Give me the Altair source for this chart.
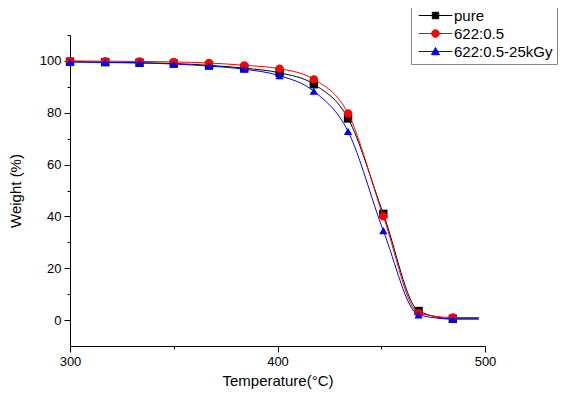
import altair as alt
import pandas as pd

series_names = ["pure", "622:0.5", "622:0.5-25kGy"]
series_colors = ["#000000", "#ff0000", "#0000ff"]
marker_shapes = ["square", "circle", "triangle-up"]

temps = [300, 317, 333.5, 350, 367, 384, 401, 417.5, 434, 451, 468, 484.5]
pure = [99.7, 99.5, 99.3, 99.0, 98.3, 97.2, 95.4, 91.0, 77.8, 41.0, 3.5, 0.5]
s622 = [100.0, 99.9, 99.8, 99.6, 99.2, 98.3, 97.0, 92.9, 79.7, 40.0, 2.7, 1.0]
s622_25 = [99.6, 99.4, 99.2, 98.8, 98.0, 96.8, 94.3, 88.3, 72.8, 34.5, 2.0, 0.4]
line_end_temp = 497
line_end = [0.5, 1.0, 0.4]

x_major = [300, 400, 500]
x_minor = [350, 450]
y_major = [0, 20, 40, 60, 80, 100]
y_minor = [10, 30, 50, 70, 90, 110]

series_vals = [pure, s622, s622_25]

marker_rows = []
line_rows = []
for name, vals, end in zip(series_names, series_vals, line_end):
    for t, v in zip(temps, vals):
        marker_rows.append({"series": name, "T": t, "W": v})
        line_rows.append({"series": name, "T": t, "W": v})
    line_rows.append({"series": name, "T": line_end_temp, "W": end})
marker_df = pd.DataFrame(marker_rows)
line_df = pd.DataFrame(line_rows)
legend_df = pd.DataFrame({"series": series_names, "T": [300] * 3, "W": [0] * 3})

FONT = "Liberation Sans"
x_scale = alt.Scale(domain=[300, 500], nice=False, zero=False)
y_scale = alt.Scale(domain=[-10, 110], nice=False, zero=False)

axis_common = dict(
    grid=False, tickColor="black", domainColor="black", tickWidth=1, domainWidth=1,
    labelFont=FONT, labelFontSize=13, labelColor="black",
    titleFont=FONT, titleFontSize=15, titleFontWeight="normal", titleColor="black",
)

layers = []
for i, (name, col, shp) in enumerate(zip(series_names, series_colors, marker_shapes)):
    if i == 0:
        xe = alt.X("T:Q", scale=x_scale,
                   axis=alt.Axis(values=x_major, tickSize=6, labelPadding=3, labelFlush=False,
                                 title="Temperature(°C)", titlePadding=5, **axis_common))
        ye = alt.Y("W:Q", scale=y_scale,
                   axis=alt.Axis(values=y_major, tickSize=6, labelPadding=3,
                                 title="Weight (%)", titlePadding=16, **axis_common))
    else:
        xe = alt.X("T:Q", scale=x_scale, axis=None)
        ye = alt.Y("W:Q", scale=y_scale, axis=None)
    layers.append(
        alt.Chart(line_df).transform_filter(alt.datum.series == name)
        .mark_line(strokeWidth=1, interpolate="monotone", color=col)
        .encode(x=xe, y=ye)
    )
    layers.append(
        alt.Chart(marker_df).transform_filter(alt.datum.series == name)
        .mark_point(filled=True, opacity=1, size=70, shape=shp, color=col)
        .encode(x=alt.X("T:Q", scale=x_scale, axis=None),
                y=alt.Y("W:Q", scale=y_scale, axis=None))
    )

legend_paths = [
    "M-4.2,0H4.2M-0.8,-0.8H0.8V0.8H-0.8Z",
    "M-4.2,0H4.2M-0.95,0A0.95,0.95 0 1,0 0.95,0A0.95,0.95 0 1,0 -0.95,0Z",
    "M-4.2,0H4.2M0,-1L1,0.8H-1Z",
]

def make_legend():
    return alt.Legend(
        title=None, orient="none", legendX=341, legendY=-31,
        labelFont=FONT, labelFontSize=15, labelColor="black",
        strokeColor="#888888", fillColor="white", padding=4, rowPadding=2,
        symbolSize=64, symbolStrokeWidth=1, symbolOpacity=1,
        symbolOffset=13, labelOffset=11,
    )

legend_layer = alt.Chart(legend_df).mark_point(filled=True, opacity=0).encode(
    x=alt.X("T:Q", scale=x_scale,
            axis=alt.Axis(values=x_minor, orient="bottom", labels=False, domain=False,
                          title=None, tickSize=3, tickColor="black", grid=False)),
    y=alt.Y("W:Q", scale=y_scale,
            axis=alt.Axis(values=y_minor, orient="left", labels=False, domain=False,
                          title=None, tickSize=3, tickColor="black", grid=False)),
    fill=alt.Fill("series:N", scale=alt.Scale(domain=series_names, range=series_colors), legend=make_legend()),
    stroke=alt.Stroke("series:N", scale=alt.Scale(domain=series_names, range=series_colors), legend=make_legend()),
    shape=alt.Shape("series:N", scale=alt.Scale(domain=series_names, range=legend_paths), legend=make_legend()),
)

chart = alt.layer(*layers, legend_layer).resolve_axis(
    x="independent", y="independent"
).properties(
    width=415, height=311,
    autosize=alt.AutoSizeParams(type="none"),
    padding={"left": 62, "top": 27, "right": 74, "bottom": 43},
    background="white",
).configure_view(stroke=None)

chart.save("out.html", embed_options={"renderer": "svg", "actions": False})
